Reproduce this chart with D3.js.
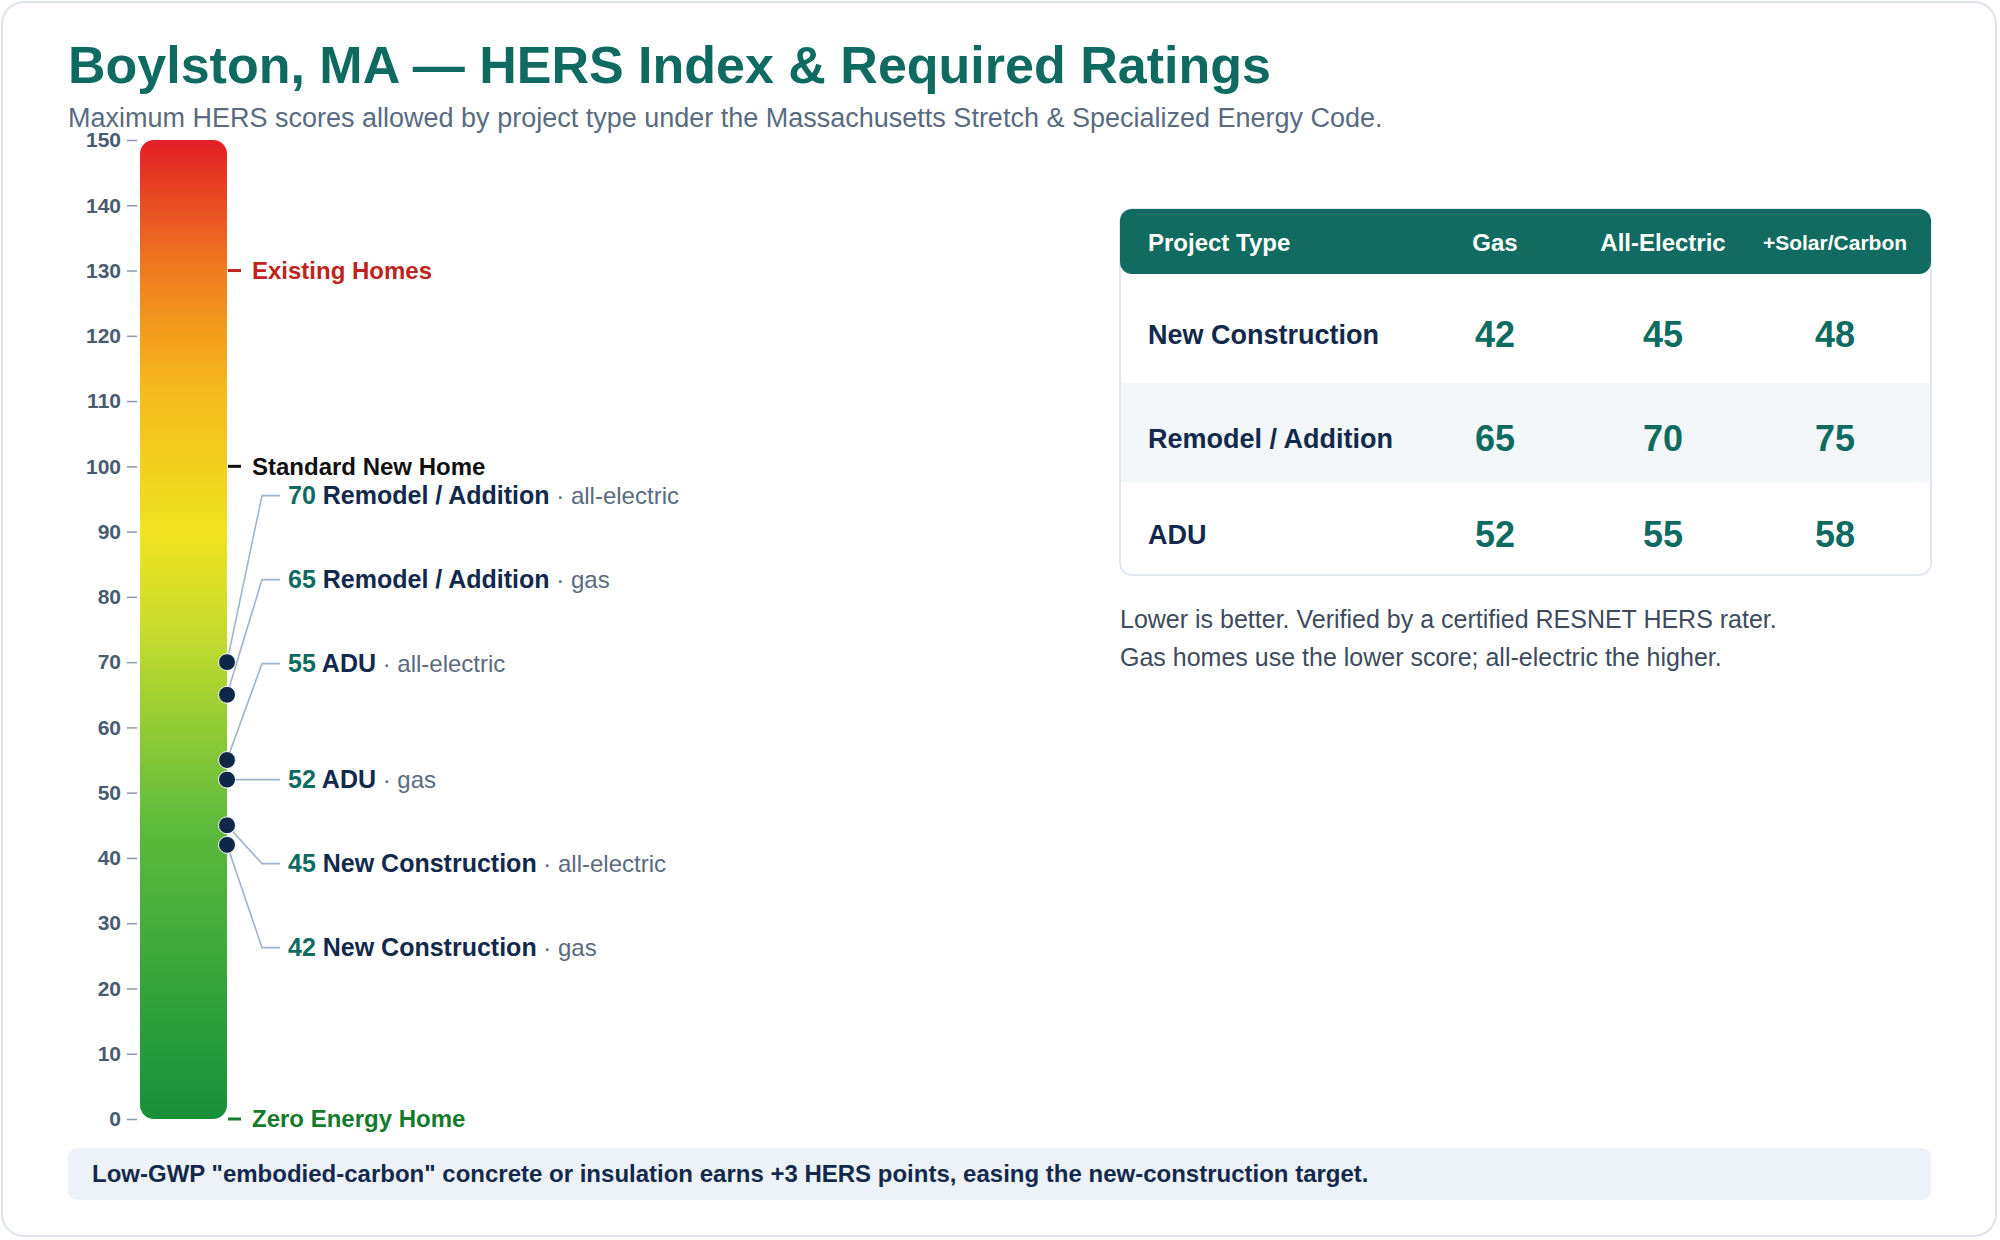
<!DOCTYPE html>
<html><head><meta charset="utf-8">
<script src="https://cdn.jsdelivr.net/npm/d3@7"></script>
<style>body{margin:0;background:#fff;font-family:"Liberation Sans",Arial,sans-serif}</style>
</head><body><svg id="c" width="2000" height="1240"></svg>
<script>
const axisTicks=[0,10,20,30,40,50,60,70,80,90,100,110,120,130,140,150];
const refNames=["Existing Homes","Standard New Home","Zero Energy Home"];
const refValues=[130,100,0];
const refColors=["#c0231e","#111111","#157a2c"];
const projectTypes=["New Construction","Remodel / Addition","ADU"];
const columns=["Project Type","Gas","All-Electric","+Solar/Carbon"];
const gasVals=[42,65,52];
const elecVals=[45,70,55];
const solarVals=[48,75,58];
const markerVals=[70,65,55,52,45,42];
const markerTypes=["Remodel / Addition","Remodel / Addition","ADU","ADU","New Construction","New Construction"];
const markerFuel=["all-electric","gas","all-electric","gas","all-electric","gas"];
const notes=["Lower is better. Verified by a certified RESNET HERS rater.","Gas homes use the lower score; all-electric the higher."];
const footer='Low-GWP "embodied-carbon" concrete or insulation earns +3 HERS points, easing the new-construction target.';

const svg=d3.select("#c");
const TEAL="#0f6b5f",NAVY="#13294b",GRAY="#5a6b80";
svg.append("rect").attr("x",2).attr("y",2).attr("width",1994).attr("height",1234).attr("rx",22).attr("fill","#fff").attr("stroke","#dde4ec").attr("stroke-width",2);
svg.append("text").attr("x",68).attr("y",83).attr("font-size",52).attr("font-weight",700).attr("fill",TEAL).text("Boylston, MA — HERS Index & Required Ratings");
svg.append("text").attr("x",68).attr("y",127).attr("font-size",27).attr("fill",GRAY).text("Maximum HERS scores allowed by project type under the Massachusetts Stretch & Specialized Energy Code.");

const y=d3.scaleLinear().domain([0,150]).range([1119,140]);
const barX=140,barW=87;
const defs=svg.append("defs");
const g=defs.append("linearGradient").attr("id","grad").attr("x1",0).attr("y1",1).attr("x2",0).attr("y2",0);
[[0,"#16903a"],[0.3,"#5dbb3c"],[0.5,"#c7dc2c"],[0.6,"#f0e31f"],[0.75,"#f4b81c"],[0.87,"#ef7a1f"],[1,"#e31f26"]].forEach(s=>g.append("stop").attr("offset",s[0]).attr("stop-color",s[1]));
svg.append("rect").attr("x",barX).attr("y",y(150)).attr("width",barW).attr("height",y(0)-y(150)).attr("rx",14).attr("fill","url(#grad)");

const ax=svg.append("g").attr("transform",`translate(${barX-3},0)`).call(d3.axisLeft(y).tickValues(axisTicks).tickSize(10).tickPadding(6));
ax.select(".domain").remove();
ax.selectAll(".tick line").attr("stroke","#8a9ab0").attr("stroke-width",1.5);
ax.selectAll(".tick text").attr("font-size",21).attr("font-weight",700).attr("fill","#4a5b70").attr("font-family","Liberation Sans,Arial,sans-serif");

refValues.forEach((v,i)=>{
  svg.append("line").attr("x1",barX+barW+1).attr("x2",barX+barW+14).attr("y1",y(v)).attr("y2",y(v)).attr("stroke",refColors[i]).attr("stroke-width",3);
  svg.append("text").attr("x",252).attr("y",y(v)).attr("dy","0.35em").attr("font-size",24).attr("font-weight",700).attr("fill",refColors[i]).text(refNames[i]);
});

// label layout: lower group stacks down from its top value, upper group stacks up above it
const gap=84, split=52;
const ly=new Array(markerVals.length);
const lowIdx=markerVals.map((v,i)=>i).filter(i=>markerVals[i]<=split);
const highIdx=markerVals.map((v,i)=>i).filter(i=>markerVals[i]>split);
lowIdx.forEach((idx,k)=>ly[idx]=y(markerVals[lowIdx[0]])+k*gap);
highIdx.slice().reverse().forEach((idx,k)=>ly[idx]=y(markerVals[lowIdx[0]])-116-k*gap);
const dotX=barX+barW;
markerVals.forEach((v,i)=>{
  svg.append("polyline").attr("points",`${dotX},${y(v)} ${262},${ly[i]} ${280},${ly[i]}`).attr("fill","none").attr("stroke","#9fb3cc").attr("stroke-width",1.6);
});
markerVals.forEach((v,i)=>{
  svg.append("circle").attr("cx",dotX).attr("cy",y(v)).attr("r",8.5).attr("fill","#0f2748").attr("stroke","#fff").attr("stroke-width",1);
  const t=svg.append("text").attr("x",288).attr("y",ly[i]).attr("dy","0.35em").attr("font-size",25);
  t.append("tspan").attr("font-weight",700).attr("fill",TEAL).text(v+" ");
  t.append("tspan").attr("font-weight",700).attr("fill",NAVY).text(markerTypes[i]);
  t.append("tspan").attr("fill",GRAY).attr("font-size",24).text(" · "+markerFuel[i]);
});

// table
const tx=1120,tw=811,ty=209,hh=65;
const rowTop=[274,383,482,575];
svg.append("rect").attr("x",tx).attr("y",ty).attr("width",tw).attr("height",rowTop[3]-ty).attr("rx",12).attr("fill","#fff").attr("stroke","#d8e0ea").attr("stroke-width",1.5);
svg.append("rect").attr("x",tx+1).attr("y",rowTop[1]).attr("width",tw-2).attr("height",rowTop[2]-rowTop[1]).attr("fill","#f3f7fa");
svg.append("rect").attr("x",tx).attr("y",ty).attr("width",tw).attr("height",hh).attr("rx",12).attr("fill","#116b60");
const colX=[1148,1495,1663,1835];
columns.forEach((c,i)=>svg.append("text").attr("x",colX[i]).attr("y",ty+hh/2+1).attr("dy","0.35em").attr("text-anchor",i?"middle":"start").attr("font-size",i==3?21:24).attr("font-weight",700).attr("fill","#fff").text(c));
projectTypes.forEach((p,r)=>{
  const cy=(rowTop[r]+rowTop[r+1])/2+6;
  svg.append("text").attr("x",colX[0]).attr("y",cy).attr("dy","0.35em").attr("font-size",27).attr("font-weight",700).attr("fill",NAVY).text(p);
  [gasVals,elecVals,solarVals].forEach((arr,c)=>svg.append("text").attr("x",colX[c+1]).attr("y",cy).attr("dy","0.36em").attr("text-anchor","middle").attr("font-size",36).attr("font-weight",700).attr("fill",TEAL).text(arr[r]));
});
notes.forEach((n,i)=>svg.append("text").attr("x",1120).attr("y",628+i*38).attr("font-size",25).attr("fill","#3d4b5c").text(n));

svg.append("rect").attr("x",68).attr("y",1148).attr("width",1863).attr("height",52).attr("rx",9).attr("fill","#edf2f8");
svg.append("text").attr("x",92).attr("y",1174).attr("dy","0.35em").attr("font-size",24).attr("font-weight",700).attr("fill",NAVY).text(footer);
</script></body></html>
